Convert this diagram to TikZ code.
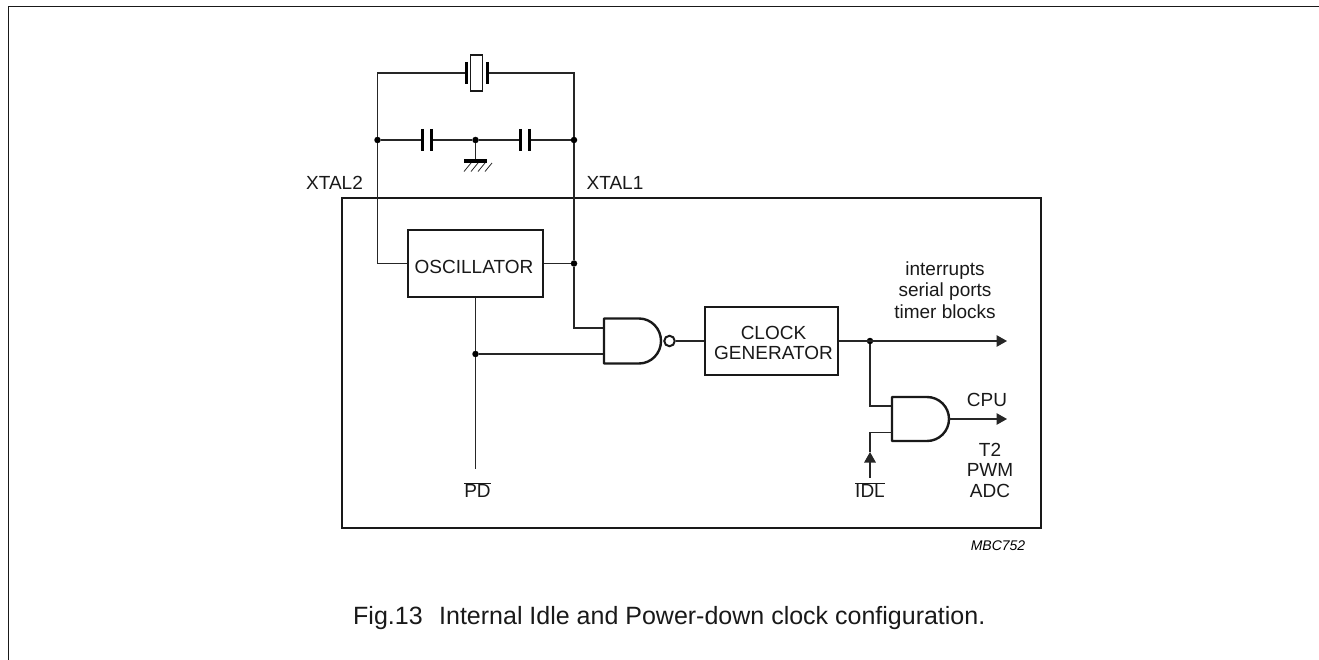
\documentclass[tikz,border=0pt]{standalone}
\usepackage{fontspec}
\setmainfont{Liberation Sans}
\usetikzlibrary{arrows.meta}
\tikzset{
  wire/.style={draw=black!85,line width=1.3pt},
  boxthick/.style={draw=black!90,line width=2.6pt,fill=none},
  gate/.style={draw=black!90,line width=2.4pt,line join=round},
  plate/.style={draw=black,line width=3pt},
  junction/.style={circle,fill=black,inner sep=0pt,minimum size=6.5pt},
  lab/.style={font=\fontsize{19}{20}\selectfont,inner sep=0pt,text=black!90},
  labc/.style={lab,align=center},
  arrowwire/.style={wire,-{Triangle[length=10.5pt,width=11.5pt]}},
  arrowback/.style={wire,{Triangle[length=10.5pt,width=11.5pt]}-},
}
\begin{document}
\begin{tikzpicture}[x=1pt,y=-1pt]
\useasboundingbox (0,0) rectangle (1319,660);
% frame
\coordinate (fa) at (8.5,660); \coordinate (fb) at (8.5,6.5); \coordinate (fc) at (1319,6.5);
\draw[draw=black!90,line width=1.8pt] (fa) -- (fb) -- (fc);
% main block
\node[boxthick,minimum width=699pt,minimum height=330pt,inner sep=0pt] (chip) at (691.5,363) {};
\node[boxthick,minimum width=135pt,minimum height=67pt,inner sep=0pt] (osc) at (475.5,263.5) {};
\node[boxthick,minimum width=133pt,minimum height=68pt,inner sep=0pt] (clk) at (771.5,341) {};
\node[lab] (osct) at (474,267) {OSCILLATOR};
\node[labc] (clkt) at (773.5,343) {CLOCK\\GENERATOR};
% junctions
\node[junction] (jl) at (377.5,140) {};
\node[junction] (jc) at (475.5,140) {};
\node[junction] (jr) at (574,140) {};
\node[junction] (jo) at (574,263.5) {};
\node[junction] (jp) at (475.5,354) {};
\node[junction] (jk) at (870,341) {};
% coordinates
\coordinate (tl) at (377.5,73); \coordinate (tr) at (574,73);
\coordinate (xl) at (466.5,73); \coordinate (xr) at (487,73);
\coordinate (c1a) at (422,140); \coordinate (c1b) at (431,140);
\coordinate (c2a) at (520,140); \coordinate (c2b) at (529,140);
\coordinate (gnd) at (475.5,160);
\coordinate (nandA) at (604,328); \coordinate (nandB) at (604,354);
\coordinate (andA) at (892,406); \coordinate (andB) at (892,432.5);
\coordinate (andO) at (949,419);
\coordinate (end1) at (1007,341); \coordinate (end2) at (1007,419);
\coordinate (pdend) at (475.5,469); \coordinate (idlend) at (870,478);
% crystal
\draw[wire] (jl) -- (tl) -- (xl);
\draw[wire] (jr) -- (tr) -- (xr);
\draw[draw=black!90,line width=1.3pt] (470.7,55) rectangle (482.7,91);
\draw[plate] (466.5,62) -- (466.5,84.5);
\draw[plate] (487,62) -- (487,84.5);
% capacitors
\draw[wire] (jl) -- (c1a); \draw[wire] (c1b) -- (jc) -- (c2a); \draw[wire] (c2b) -- (jr);
\draw[plate] (422,129) -- (422,151); \draw[plate] (431,129) -- (431,151);
\draw[plate] (520,129) -- (520,151); \draw[plate] (529,129) -- (529,151);
% ground
\draw[wire] (jc) -- (gnd);
\draw[draw=black,line width=4pt] (464,161) -- (487,161);
\foreach \x in {464,471,478,485}{\draw[draw=black!85,line width=0.8pt] (\x+7,163) -- (\x,171.5);}
% wires
\draw[wire] (jl) |- (osc.west);
\draw[wire] (osc.east) -- (jo);
\draw[wire] (jr) -- (jo) |- (nandA);
\draw[wire] (osc.south) -- (jp) -- (pdend);
\draw[wire] (jp) -- (nandB);
% nand
\node[circle,draw=black!90,line width=2pt,minimum size=10.5pt,inner sep=0pt] (bub) at (669.5,341) {};
\draw[gate] (604,318.5) -- (639,318.5) arc[start angle=90,end angle=-90,x radius=22pt,y radius=22.5pt] -- (604,363.5) -- cycle;
\draw[wire] (bub) -- (clk);
% clock outputs
\draw[arrowwire] (clk) -- (end1);
\draw[wire] (jk) |- (andA);
% and
\draw[gate] (892,397) -- (927,397) arc[start angle=90,end angle=-90,x radius=22pt,y radius=22pt] -- (892,441) -- cycle;
\draw[arrowwire] (andO) -- (end2);
\draw[wire] (andB) -| (870,452);
\draw[arrowback] (870,452) -- (idlend);
% labels
\node[lab] (t1) at (334.5,183) {XTAL2};
\node[lab] (t2) at (615,183) {XTAL1};
\node[lab] (pd) at (477.5,490) {$\overline{\hbox{PD}}$};
\node[lab] (idl) at (870,490) {$\overline{\hbox{IDL}}$};
\node[labc] (t3) at (945,271) {interrupts};
\node[labc] (t4) at (945,291.5) {serial ports};
\node[labc] (t5) at (945,312) {timer blocks};
\node[lab] (t6) at (987,400) {CPU};
\node[lab] (t7) at (990,450) {T2};
\node[lab] (t8) at (990,470) {PWM};
\node[lab] (t9) at (990,491) {ADC};
\node[font=\fontsize{14}{16}\selectfont\itshape,inner sep=0pt] (mbc) at (998,546) {MBC752};
\node[font=\fontsize{25}{28}\selectfont,inner sep=0pt,anchor=base west,text=black!90] (cap) at (353,624) {Fig.13\hspace{0.66em}Internal Idle and Power-down clock configuration.};
\end{tikzpicture}
\end{document}
